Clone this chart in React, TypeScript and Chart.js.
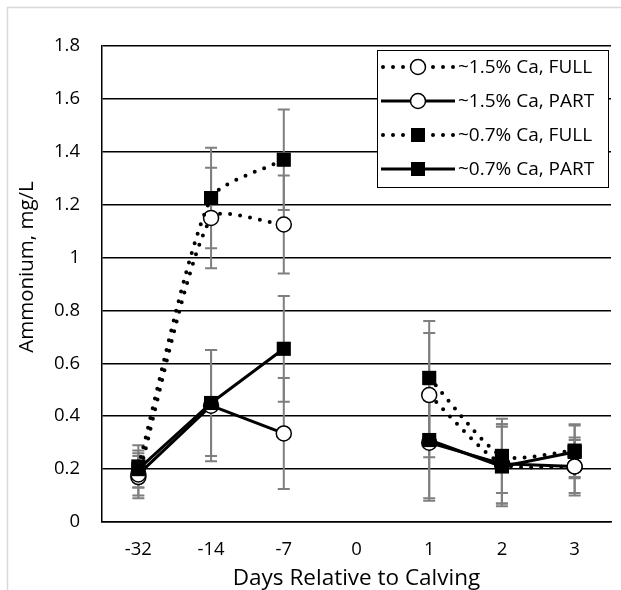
import React, { useEffect, useRef } from 'react';
import { Chart, registerables } from 'chart.js';

Chart.register(...registerables);

const categories = ['-32', '-14', '-7', '0', '1', '2', '3'];
const seriesNames = ['~1.5% Ca, FULL', '~1.5% Ca, PART', '~0.7% Ca, FULL', '~0.7% Ca, PART'];
const xTitle = 'Days Relative to Calving';
const yTitle = 'Ammonium, mg/L';

const highCaFull = [0.17, 1.15, 1.125, null, 0.48, 0.22, 0.21];
const highCaPart = [0.18, 0.44, 0.335, null, 0.30, 0.22, 0.21];
const lowCaFull = [0.21, 1.225, 1.37, null, 0.545, 0.25, 0.27];
const lowCaPart = [0.20, 0.45, 0.655, null, 0.31, 0.21, 0.265];

const highCaFullErr = [0.08, 0.19, 0.185, null, 0.235, 0.15, 0.11];
const highCaPartErr = [0.08, 0.21, 0.21, null, 0.22, 0.15, 0.10];
const lowCaFullErr = [0.08, 0.19, 0.19, null, 0.215, 0.14, 0.10];
const lowCaPartErr = [0.07, 0.20, 0.20, null, 0.22, 0.15, 0.10];

const yTickValues = [0, 0.2, 0.4, 0.6, 0.8, 1, 1.2, 1.4, 1.6, 1.8];
const yTickLabels = ['0', '0.2', '0.4', '0.6', '0.8', '1', '1.2', '1.4', '1.6', '1.8'];

const FONT = 'Open Sans';
const TICK_SIZE = 18.5;
const X_TITLE_SIZE = 22.5;
const Y_TITLE_SIZE = 20.5;
const LEGEND_SIZE = 19;

type Style = { dotted: boolean; marker: 'circle' | 'rect' };
const styles: Style[] = [
  { dotted: true, marker: 'circle' },
  { dotted: false, marker: 'circle' },
  { dotted: true, marker: 'rect' },
  { dotted: false, marker: 'rect' },
];
const values = [highCaFull, highCaPart, lowCaFull, lowCaPart];
const errors = [highCaFullErr, highCaPartErr, lowCaFullErr, lowCaPartErr];

function drawMarker(ctx: CanvasRenderingContext2D, style: Style, x: number, y: number) {
  ctx.save();
  ctx.setLineDash([]);
  if (style.marker === 'circle') {
    ctx.beginPath();
    ctx.arc(x, y, 7.5, 0, Math.PI * 2);
    ctx.fillStyle = '#ffffff';
    ctx.fill();
    ctx.lineWidth = 1.5;
    ctx.strokeStyle = '#000000';
    ctx.stroke();
  } else {
    ctx.fillStyle = '#000000';
    ctx.fillRect(x - 7, y - 7, 14, 14);
  }
  ctx.restore();
}

const decorPlugin = {
  id: 'decor',
  beforeDraw(chart: any) {
    const ctx = chart.ctx as CanvasRenderingContext2D;
    ctx.save();
    ctx.fillStyle = '#ffffff';
    ctx.fillRect(0, 0, chart.width, chart.height);
    ctx.strokeStyle = '#d9d9d9';
    ctx.lineWidth = 1.5;
    ctx.beginPath();
    ctx.moveTo(7.5, chart.height);
    ctx.lineTo(7.5, 7.5);
    ctx.lineTo(chart.width, 7.5);
    ctx.stroke();
    // y axis title
    ctx.translate(27, chart.chartArea.top + 221);
    ctx.rotate(-Math.PI / 2);
    ctx.fillStyle = '#000000';
    ctx.font = `${Y_TITLE_SIZE}px "${FONT}"`;
    ctx.textAlign = 'center';
    ctx.textBaseline = 'middle';
    ctx.fillText(yTitle, 0, 0);
    ctx.restore();
  },
  beforeDatasetsDraw(chart: any) {
    const ctx = chart.ctx as CanvasRenderingContext2D;
    const yScale = chart.scales.y;
    ctx.save();
    ctx.strokeStyle = '#7f7f7f';
    ctx.lineWidth = 2;
    ctx.setLineDash([]);
    values.forEach((vals, i) => {
      const meta = chart.getDatasetMeta(i);
      vals.forEach((v, j) => {
        const e = errors[i][j];
        if (v === null || e === null) return;
        const pt = meta.data[j];
        if (!pt) return;
        const x = pt.x;
        const yt = yScale.getPixelForValue(v + e);
        const yb = yScale.getPixelForValue(v - e);
        ctx.beginPath();
        ctx.moveTo(x, yt);
        ctx.lineTo(x, yb);
        ctx.moveTo(x - 6, yt);
        ctx.lineTo(x + 6, yt);
        ctx.moveTo(x - 6, yb);
        ctx.lineTo(x + 6, yb);
        ctx.stroke();
      });
    });
    ctx.restore();
  },
  afterDraw(chart: any) {
    const ctx = chart.ctx as CanvasRenderingContext2D;
    const area = chart.chartArea;
    const bx = area.left + 275;
    const by = 50;
    const bw = 231;
    const bh = 137;
    ctx.save();
    ctx.fillStyle = '#ffffff';
    ctx.fillRect(bx, by, bw, bh);
    ctx.strokeStyle = '#000000';
    ctx.lineWidth = 1;
    ctx.strokeRect(bx + 0.5, by + 0.5, bw, bh);
    seriesNames.forEach((name, i) => {
      const cy = by + 17 + i * 34;
      const st = styles[i];
      ctx.save();
      ctx.strokeStyle = '#000000';
      if (st.dotted) {
        ctx.lineWidth = 4;
        ctx.lineCap = 'round';
        ctx.setLineDash([0, 10]);
        ctx.beginPath();
        ctx.moveTo(bx + 6, cy);
        ctx.lineTo(bx + 78, cy);
        ctx.stroke();
      } else {
        ctx.lineWidth = 3;
        ctx.beginPath();
        ctx.moveTo(bx + 4, cy);
        ctx.lineTo(bx + 78, cy);
        ctx.stroke();
      }
      ctx.restore();
      drawMarker(ctx, st, bx + 41, cy);
      ctx.fillStyle = '#000000';
      ctx.font = `${LEGEND_SIZE}px "${FONT}"`;
      ctx.textAlign = 'left';
      ctx.textBaseline = 'middle';
      ctx.fillText(name, bx + 81, cy + 1);
    });
    ctx.restore();
  },
};

export default function App() {
  const ref = useRef<HTMLCanvasElement | null>(null);
  useEffect(() => {
    if (!ref.current) return;
    const datasets = values.map((vals, i) => {
      const st = styles[i];
      return {
        label: seriesNames[i],
        data: vals,
        borderColor: '#000000',
        backgroundColor: st.marker === 'circle' ? '#ffffff' : '#000000',
        borderWidth: st.dotted ? 4 : 3,
        borderDash: st.dotted ? [0, 10] : [],
        borderCapStyle: st.dotted ? 'round' : 'butt',
        borderJoinStyle: 'round',
        tension: st.dotted ? 0.22 : 0,
        spanGaps: false,
        pointStyle: st.marker,
        pointRadius: st.marker === 'circle' ? 7.5 : 10,
        pointBorderWidth: st.marker === 'circle' ? 1.5 : 0,
        pointBorderColor: '#000000',
        pointBackgroundColor: st.marker === 'circle' ? '#ffffff' : '#000000',
        fill: false,
        order: 3 - i,
      };
    });
    const chart = new Chart(ref.current, {
      type: 'line',
      data: { labels: categories, datasets: datasets as any },
      plugins: [decorPlugin],
      options: {
        animation: false,
        responsive: false,
        maintainAspectRatio: false,
        layout: { padding: { left: 0, right: 2, top: 46, bottom: 0 } },
        plugins: {
          legend: { display: false },
          tooltip: { enabled: false },
        },
        scales: {
          x: {
            type: 'category',
            offset: true,
            grid: { display: false, drawTicks: false },
            border: { display: true, color: '#000000', width: 1.5 },
            ticks: {
              color: '#000000',
              font: { family: FONT, size: TICK_SIZE },
              padding: 17,
              maxRotation: 0,
              autoSkip: false,
            },
            title: {
              display: true,
              text: xTitle,
              color: '#000000',
              font: { family: FONT, size: X_TITLE_SIZE },
              padding: { top: 0, bottom: -2 },
            },
            afterFit: (s: any) => { s.height = 68; },
          },
          y: {
            min: 0,
            max: 1.8,
            grid: { color: '#000000', lineWidth: 1.5, drawTicks: false },
            border: { display: true, color: '#000000', width: 1.5 },
            afterBuildTicks: (s: any) => {
              s.ticks = yTickValues.map((v) => ({ value: v }));
            },
            ticks: {
              color: '#000000',
              font: { family: FONT, size: TICK_SIZE },
              padding: 22,
              callback: (_v: any, idx: number) => yTickLabels[idx],
            },
            title: { display: false },
            afterFit: (s: any) => { s.width = 102; },
          },
        },
      } as any,
    });
    return () => chart.destroy();
  }, []);
  return (
    <div style={{ position: 'fixed', left: 0, top: 0, width: 621, height: 590, background: '#fff' }}>
      <canvas ref={ref} width={621} height={590} style={{ width: 621, height: 590, display: 'block' }} />
    </div>
  );
}
